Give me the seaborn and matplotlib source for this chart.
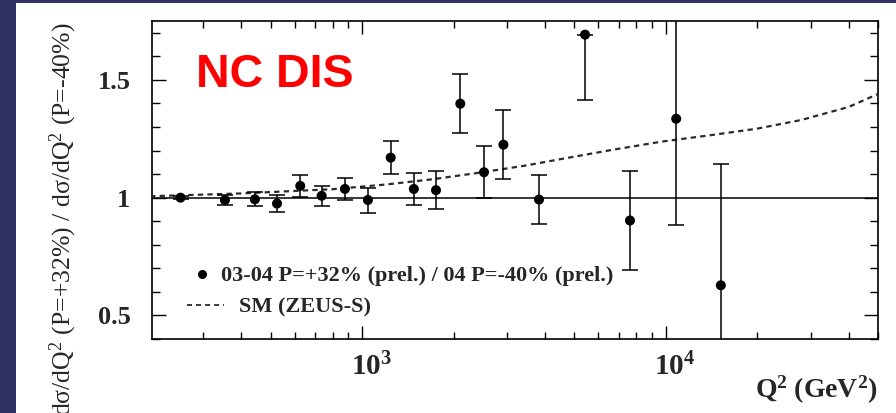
import matplotlib
matplotlib.use("Agg")
import matplotlib.pyplot as plt
import matplotlib.ticker as mticker
import matplotlib.transforms as mtransforms
from matplotlib.lines import Line2D
from matplotlib.patches import Rectangle
import numpy as np
import pandas as pd
import seaborn as sns

# Ratio of NC DIS cross sections for positive / negative polarisation
q2 = [252, 353, 443, 524, 625, 735, 877, 1044, 1241, 1479, 1750, 2104,
      2518, 2918, 3823, 5420, 7620, 10820, 15180]
ratio = [1.000, 0.990, 0.993, 0.975, 1.050, 1.008, 1.037, 0.990, 1.170,
         1.037, 1.032, 1.399, 1.108, 1.225, 0.992, 1.692, 0.903, 1.335, 0.628]
err_lo = [0.005, 0.022, 0.030, 0.037, 0.046, 0.042, 0.047, 0.053, 0.071,
          0.068, 0.080, 0.125, 0.110, 0.147, 0.103, 0.276, 0.210, 0.449, 0.517]
err_hi = [0.005, 0.022, 0.030, 0.037, 0.046, 0.042, 0.047, 0.053, 0.071,
          0.068, 0.080, 0.125, 0.110, 0.147, 0.103, 0.000, 0.210, 0.449, 0.517]

# Standard Model expectation (ZEUS-S)
sm_q2 = [200, 400, 800, 1200, 1700, 2400, 3400, 4800, 6800, 9700, 14000,
         20000, 28000, 40000, 50000]
sm_ratio = [1.006, 1.018, 1.036, 1.056, 1.078, 1.105, 1.135, 1.170, 1.205,
            1.238, 1.265, 1.293, 1.330, 1.385, 1.440]

data = pd.DataFrame({"Q2": q2, "ratio": ratio})
sm = pd.DataFrame({"Q2": sm_q2, "ratio": sm_ratio})

sns.set_theme(style="ticks")
plt.rcParams["font.family"] = ["Liberation Serif", "DejaVu Serif"]
plt.rcParams["mathtext.fontset"] = "custom"
plt.rcParams["mathtext.rm"] = "Liberation Serif"
plt.rcParams["mathtext.it"] = "Liberation Serif:italic"
plt.rcParams["mathtext.bf"] = "Liberation Serif:bold"

W, H = 896, 413
fig = plt.figure(figsize=(W / 100, H / 100), dpi=100)
fig.patch.set_facecolor("white")

# slide frame strips
navy = "#313163"
fig.add_artist(Rectangle((0, 0), 16 / W, 1, transform=fig.transFigure,
                         facecolor=navy, edgecolor="none", zorder=0))
fig.add_artist(Rectangle((0, 1 - 3 / H), 1, 3 / H, transform=fig.transFigure,
                         facecolor=navy, edgecolor="none", zorder=0))

L, R, T, B = 152, 878, 21, 339
ax = fig.add_axes([L / W, 1 - B / H, (R - L) / W, (B - T) / H])
ax.set_facecolor("white")

ax.axhline(1.0, color="black", lw=1.1, zorder=2)

sm_dash = (2.4, 1.9)
sm_color = "#2a2a2a"
sns.lineplot(data=sm, x="Q2", y="ratio", ax=ax, color=sm_color,
             lw=1.6, zorder=3)
ax.lines[-1].set_dashes(sm_dash)

ax.errorbar(q2, ratio, yerr=[err_lo, err_hi], fmt="none", ecolor="black",
            elinewidth=1.1, capsize=5.5, capthick=1.1, zorder=4)
sns.scatterplot(data=data, x="Q2", y="ratio", ax=ax, color="black", s=52,
                edgecolor="none", zorder=5)

ax.set_xscale("log")
ax.set_xlim(203, 50000)
ax.set_ylim(0.40, 1.75)

ax.set_xticks([1e3, 1e4])
ax.set_xticklabels([r"$\mathbf{10^{3}}$", r"$\mathbf{10^{4}}$"], fontsize=21)
ax.xaxis.set_minor_locator(mticker.LogLocator(base=10, subs=np.arange(2, 10)))
ax.xaxis.set_minor_formatter(mticker.NullFormatter())
ax.set_yticks([0.5, 1.0, 1.5])
ax.set_yticklabels(["0.5", "1", "1.5"], fontsize=19, fontweight="bold")
ax.yaxis.set_minor_locator(mticker.MultipleLocator(0.1))

ax.tick_params(axis="both", which="both", direction="in", top=True,
               right=True, color="black", width=1.0)
ax.tick_params(axis="x", which="major", length=9.5, pad=10)
ax.tick_params(axis="x", which="minor", length=5)
ax.tick_params(axis="y", which="major", length=10, pad=15.5)
ax.tick_params(axis="y", which="minor", length=6)

shift = mtransforms.ScaledTranslation(9 / 100, 0, fig.dpi_scale_trans)
for lab in ax.get_xticklabels():
    lab.set_transform(lab.get_transform() + shift)

for sp in ax.spines.values():
    sp.set_color("black")
    sp.set_linewidth(1.2)

ax.set_xlabel("")
ax.set_ylabel("")

fig.text(R / W, 1 - 398 / H, r"$\mathbf{Q^{2}\ (GeV^{2})}$", fontsize=20,
         ha="right", va="baseline")
# long axis title runs past the bottom edge of the slide
fig.text(63 / W, 1 - 22 / H,
         r"dσ/dQ$^{2}$ (P=+32%) / dσ/dQ$^{2}$ (P=-40%)",
         fontsize=18.5, rotation=90, ha="center", va="top")

fig.text(196 / W, 1 - 87 / H, "NC DIS", color="#ff0000", fontsize=33.5,
         fontweight="bold", family=["Liberation Sans", "DejaVu Sans"],
         ha="left", va="baseline")

fs = 16
h_pts = Line2D([], [], marker="o", color="black", linestyle="none",
               markersize=5.5)
h_sm = Line2D([], [], color=sm_color, lw=1.3, dashes=(2.8, 2.2))
leg1 = ax.legend([h_pts], ["03-04 P=+32% (prel.) / 04 P=-40% (prel.)"],
                 loc="center left", bbox_to_anchor=(192.8 / W, 1 - 276 / H),
                 bbox_transform=fig.transFigure, frameon=False, borderpad=0,
                 borderaxespad=0, handlelength=0.8, handletextpad=0.455,
                 numpoints=1, prop={"size": fs, "weight": "bold"})
ax.add_artist(leg1)
ax.legend([h_sm], ["SM (ZEUS-S)"], loc="center left",
          bbox_to_anchor=(187 / W, 1 - 307.7 / H),
          bbox_transform=fig.transFigure, frameon=False, borderpad=0,
          borderaxespad=0, handlelength=1.67, handletextpad=0.69,
          prop={"size": fs, "weight": "bold"})

fig.savefig("out.png", dpi=100)
